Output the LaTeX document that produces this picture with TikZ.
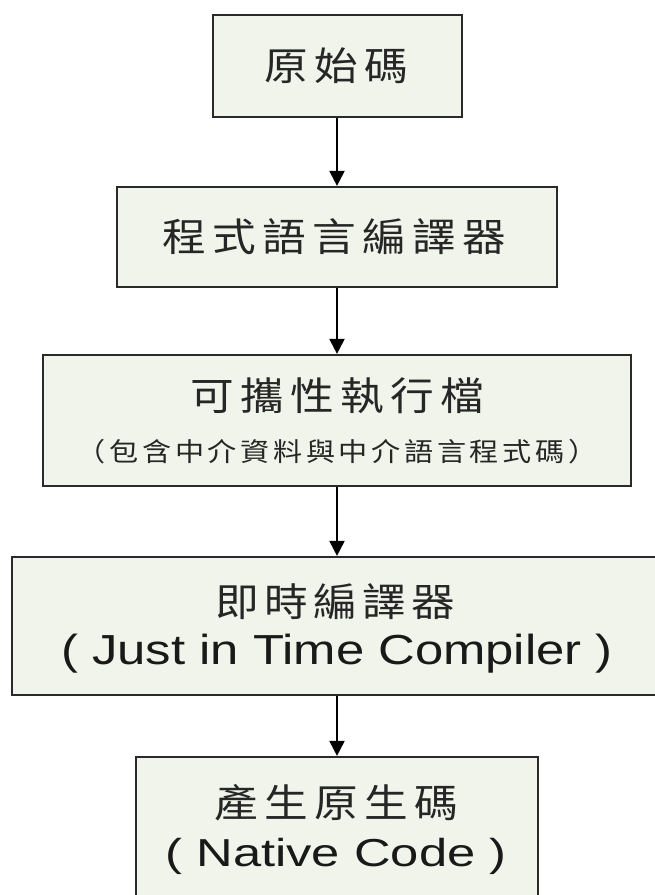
\documentclass[tikz,border=0pt]{standalone}
\usepackage{fontspec}
\setmainfont{Liberation Sans}
\newfontfamily\cjk{Noto Sans CJK TC}[FakeStretch=1.12]
\usetikzlibrary{arrows.meta}
\definecolor{boxfill}{HTML}{F1F4EA}
\definecolor{boxline}{HTML}{2A2A2A}
\ExplSyntaxOn
\NewDocumentCommand\spaced{mm}{\tl_map_inline:nn{#2}{\makebox[#1]{##1}}}
\ExplSyntaxOff
\tikzset{
  box/.style={draw=boxline, line width=2.2pt, fill=boxfill, rectangle, inner sep=0pt},
  bigcjk/.style={font=\cjk\fontsize{39}{39}\selectfont, inner sep=0pt, text=black!85},
  smallcjk/.style={font=\cjk\fontsize{26}{26}\selectfont, inner sep=0pt, text=black!85},
  latin/.style={font=\fontsize{42}{42}\selectfont, inner sep=0pt, anchor=base, text=black!90},
  flow/.style={draw=black, line width=2pt, -{Triangle[width=15pt,length=15pt]}}
}
\begin{document}
\begin{tikzpicture}[x=1pt,y=-1pt]
\useasboundingbox (0,0) rectangle (655,895);
\clip (0,0) rectangle (655,895);
% boxes
\node[box, minimum width=249pt, minimum height=102pt] (b1) at (337.5,66) {};
\node[box, minimum width=440pt, minimum height=100pt] (b2) at (337,237) {};
\node[box, minimum width=588pt, minimum height=131pt] (b3) at (337,420.5) {};
\node[box, minimum width=650pt, minimum height=138pt] (b4) at (337,626) {};
\node[box, minimum width=402pt, minimum height=170pt] (b5) at (337,842) {};
% texts
\node[bigcjk] (t1) at (336,66) {\spaced{50pt}{原始碼}};
\node[bigcjk] (t2) at (334,237) {\spaced{50pt}{程式語言編譯器}};
\node[bigcjk] (t3) at (337,396) {\spaced{50pt}{可攜性執行檔}};
\node[smallcjk] (s3) at (337,452) {\spaced{32.75pt}{（包含中介資料與中介語言程式碼）}};
\node[bigcjk] (t4) at (335,602) {\spaced{49pt}{即時編譯器}};
\node[latin] (e4) at (337,664) {\scalebox{1.21}[1]{( Just in Time Compiler )}};
\node[bigcjk] (t5) at (336,803) {\spaced{50pt}{產生原生碼}};
\node[latin] (e5) at (336,866.5) {\scalebox{1.3}[1]{\fontsize{39}{39}\selectfont( Native Code )}};
% connectors
\draw[flow] (b1.south -| 337,0) -- (b2.north -| 337,0);
\draw[flow] (b2.south) -- (b3.north);
\draw[flow] (b3.south) -- (b4.north);
\draw[flow] (b4.south) -- (b5.north);
\end{tikzpicture}
\end{document}
